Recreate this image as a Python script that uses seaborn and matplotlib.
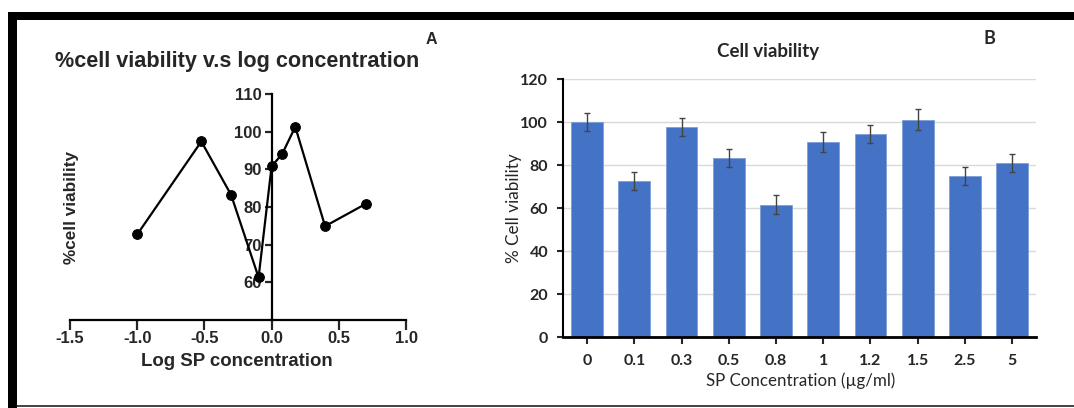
import numpy as np
import pandas as pd
import matplotlib
matplotlib.use('Agg')
import matplotlib.pyplot as plt
import seaborn as sns
from matplotlib.patches import Rectangle
from matplotlib.lines import Line2D

sns.set_style('white')
plt.rcParams['font.family'] = ['Liberation Sans', 'DejaVu Sans']
plt.rcParams['axes.unicode_minus'] = False

# panel B data (bars)
conc_labels = ['0', '0.1', '0.3', '0.5', '0.8', '1', '1.2', '1.5', '2.5', '5']
bar_viab = [100.0, 72.8, 97.8, 83.3, 61.6, 90.6, 94.5, 101.1, 75.0, 81.0]
bar_err = [4.2, 4.2, 4.3, 4.2, 4.4, 4.6, 4.3, 5.0, 4.3, 4.3]

# panel A data (log concentration vs viability)
line_conc = [0.1, 0.3, 0.5, 0.8, 1, 1.2, 1.5, 2.5, 5]
line_viab = [72.7, 97.4, 83.2, 61.3, 90.8, 94.1, 101.3, 74.9, 80.8]

W, H = 1074, 408
fig = plt.figure(figsize=(W / 100, H / 100), dpi=100)


def fx(px):
    return px / W


def fy(py):
    return 1 - py / H


arial = ['Liberation Sans', 'DejaVu Sans']
calib = ['Lato', 'DejaVu Sans']

# ---- panel A ----
ax1 = fig.add_axes([fx(70), fy(320), fx(406) - fx(70), fy(94) - fy(320)])
df1 = pd.DataFrame({'logc': np.log10(line_conc), 'viab': line_viab})
sns.lineplot(data=df1, x='logc', y='viab', ax=ax1, color='black', lw=1.6,
             marker='o', markersize=7, markeredgecolor='black', sort=False)
ax1.set_xlim(-1.5, 1.0)
ax1.set_ylim(50, 110)
ax1.set_xticks([-1.5, -1.0, -0.5, 0.0, 0.5, 1.0])
ax1.set_xticklabels([f'{v:.1f}' for v in [-1.5, -1.0, -0.5, 0.0, 0.5, 1.0]])
ax1.set_yticks([60, 70, 80, 90, 100, 110])
ax1.spines['top'].set_visible(False)
ax1.spines['right'].set_visible(False)
ax1.spines['left'].set_position(('data', 0))
for s in ['left', 'bottom']:
    ax1.spines[s].set_linewidth(1.6)
    ax1.spines[s].set_color('black')
ax1.tick_params(axis='x', direction='out', length=7, width=1.6, pad=1, labelsize=12, bottom=True)
ax1.tick_params(axis='y', direction='out', length=5, width=1.6, pad=2, labelsize=12, left=True)
for lbl in ax1.get_xticklabels() + ax1.get_yticklabels():
    lbl.set_fontweight('bold')
    lbl.set_family(arial)
ax1.set_xlabel('')
ax1.set_ylabel('')
ax1.set_facecolor('none')

fig.text(fx(236.7), fy(61.7), '%cell viability v.s log concentration', ha='center', va='center',
         fontsize=15.6, fontweight='bold', family=arial)
fig.text(fx(431.7), fy(39.3), 'A', ha='center', va='center', fontsize=11.5, fontweight='bold', family=arial)
fig.text(fx(236.7), fy(361), 'Log SP concentration', ha='center', va='center',
         fontsize=13.4, fontweight='bold', family=arial)
fig.text(fx(71.7), fy(208), '%cell viability', ha='center', va='center', rotation=90,
         fontsize=12.3, fontweight='bold', family=arial)

# ---- panel B ----
ax2 = fig.add_axes([fx(563.4), fy(337.3), fx(1035.8) - fx(563.4), fy(79) - fy(337.3)])
df2 = pd.DataFrame({'conc': conc_labels, 'viab': bar_viab})
sns.barplot(data=df2, x='conc', y='viab', ax=ax2, color='#4472C4', saturation=1,
            width=0.675, edgecolor='#7E9ED8', linewidth=0.6, zorder=2)
ax2.errorbar(range(len(conc_labels)), bar_viab, yerr=bar_err, fmt='none', ecolor='#444444',
             elinewidth=1, capsize=2, capthick=1, zorder=3)
ax2.set_xlim(-0.5, 9.5)
ax2.set_ylim(0, 120)
ax2.set_yticks(range(0, 121, 20))
ax2.yaxis.grid(True, color='#D9D9D9', lw=1)
ax2.xaxis.grid(False)
ax2.set_axisbelow(True)
ax2.spines['top'].set_visible(False)
ax2.spines['right'].set_visible(False)
ax2.spines['left'].set_linewidth(1.5)
ax2.spines['left'].set_color('black')
ax2.spines['bottom'].set_linewidth(2)
ax2.spines['bottom'].set_color('black')
ax2.tick_params(axis='x', direction='out', length=5, width=1.5, pad=7, labelsize=11.5, bottom=True)
ax2.tick_params(axis='y', direction='out', length=4, width=1.5, pad=7, labelsize=11.5, left=True)
for lbl in ax2.get_xticklabels() + ax2.get_yticklabels():
    lbl.set_fontweight('bold')
    lbl.set_family(calib)
ax2.set_xlabel('')
ax2.set_ylabel('')

fig.text(fx(768.3), fy(51.7), 'Cell viability', ha='center', va='center',
         fontsize=13.5, fontweight='bold', family=calib)
fig.text(fx(989.2), fy(39), 'B', ha='center', va='center', fontsize=13, fontweight='bold', family=calib)
fig.text(fx(800.2), fy(381), 'SP Concentration (µg/ml)', ha='center', va='center',
         fontsize=12.2, family=calib)
fig.text(fx(513.7), fy(208), '% Cell viability', ha='center', va='center', rotation=90,
         fontsize=12.3, family=calib)

# ---- frame ----
fig.add_artist(Rectangle((fx(8), fy(20)), 1 - fx(8), 8 / H, transform=fig.transFigure,
                         color='black', lw=0))
fig.add_artist(Rectangle((fx(8), 0), 9 / W, fy(12), transform=fig.transFigure,
                         color='black', lw=0))
fig.add_artist(Line2D([fx(17), 1], [fy(406), fy(406)], transform=fig.transFigure,
                      color='#222222', lw=1.2))

fig.savefig('out.png', dpi=100)
